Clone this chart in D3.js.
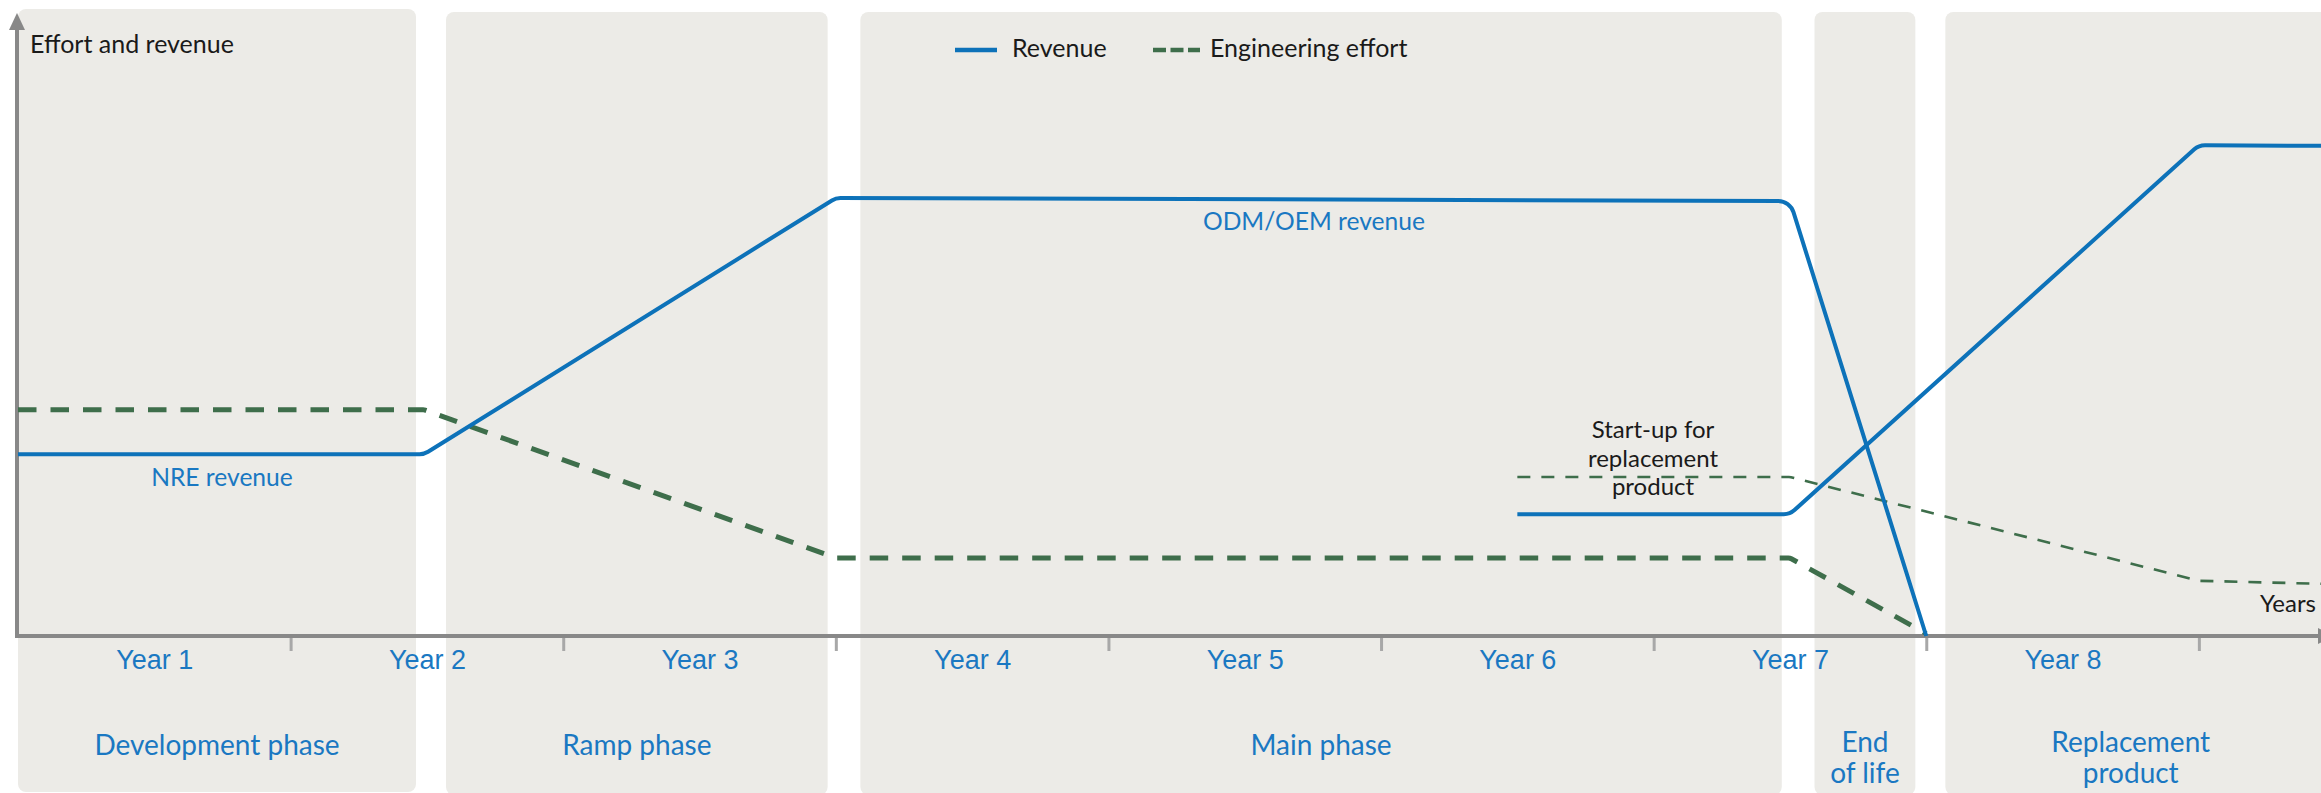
<!DOCTYPE html>
<html>
<head>
<meta charset="utf-8">
<script src="https://cdn.jsdelivr.net/npm/d3@7"></script>
<style>
  body { margin: 0; background: #fff; }
  svg { display: block; font-family: "Lato", "Open Sans", sans-serif; }
  .box { fill: #ecebe7; }
  .blue-label { fill: #1a78c2; font-size: 24.6px; }
  .year-label { fill: #1a78c2; font-size: 27px; }
  .phase-label { fill: #1a78c2; font-size: 28px; }
  .dark-label { fill: #1a1a1a; font-size: 25px; }
  .note-label { fill: #1a1a1a; font-size: 24px; }
</style>
</head>
<body>
<div id="chart"></div>
<script>
// years on the x axis, values on an arbitrary 0-100 scale
const yearTicks = [1, 2, 3, 4, 5, 6, 7, 8];
const yearLabels = ["Year 1", "Year 2", "Year 3", "Year 4", "Year 5", "Year 6", "Year 7", "Year 8"];

const phaseNames = [["Development phase"], ["Ramp phase"], ["Main phase"], ["End", "of life"], ["Replacement", "product"]];
const phaseStart = [0, 1.57, 3.09, 6.59, 7.07];
const phaseEnd = [1.46, 2.97, 6.47, 6.96, 8.43];

const revenueYears = [0, 1.49, 3.0, 6.5, 7.0];
const revenueValues = [30.3, 30.3, 73.0, 72.5, 0];

const effortYears = [0, 1.49, 3.0, 6.5, 7.0];
const effortValues = [37.7, 37.7, 13.0, 13.0, 0.4];

const newRevenueYears = [5.5, 6.5, 8.0, 8.45];
const newRevenueValues = [20.3, 20.3, 81.8, 81.7];

const newEffortYears = [5.5, 6.5, 8.0, 8.45];
const newEffortValues = [26.5, 26.5, 9.2, 8.7];

const width = 2321;
const height = 793;
const axisY = 636;
const blue = "#0d72b9";
const green = "#3e6e4b";

const svg = d3.select("#chart")
  .append("svg")
  .attr("width", width)
  .attr("height", height);

const x = d3.scaleLinear()
  .domain([0, 8.448])
  .range([18, 2321]);

const y = d3.scaleLinear()
  .domain([0, 100])
  .range([axisY, 36]);

// straight segments joined by small rounded corners
function curveRounded(radius) {
  return function (context) {
    let pts = [];
    return {
      areaStart() {},
      areaEnd() {},
      lineStart() { pts = []; },
      point(px, py) { pts.push([+px, +py]); },
      lineEnd() {
        context.moveTo(pts[0][0], pts[0][1]);
        for (let i = 1; i < pts.length - 1; i++) {
          context.arcTo(pts[i][0], pts[i][1], pts[i + 1][0], pts[i + 1][1], radius);
        }
        const last = pts[pts.length - 1];
        context.lineTo(last[0], last[1]);
      }
    };
  };
}

// phase backgrounds
phaseNames.forEach((name, i) => {
  const last = i === phaseNames.length - 1;
  const x0 = x(phaseStart[i]);
  const x1 = last ? width + 20 : x(phaseEnd[i]);
  svg.append("rect")
    .attr("class", "box")
    .attr("x", x0)
    .attr("y", i === 0 ? 9 : 12)
    .attr("width", x1 - x0)
    .attr("height", 783)
    .attr("rx", 8);

  const cx = (x(phaseStart[i]) + x(phaseEnd[i])) / 2;
  const t = svg.append("text")
    .attr("class", "phase-label")
    .attr("text-anchor", "middle")
    .attr("x", cx)
    .attr("y", name.length > 1 ? 752 : 755);
  name.forEach((line, j) => {
    t.append("tspan").attr("x", cx).attr("dy", j === 0 ? 0 : 31).text(line);
  });
});

// x axis with ticks at year boundaries
svg.append("g")
  .attr("transform", `translate(0,${axisY})`)
  .call(d3.axisBottom(x).tickValues(yearTicks).tickSize(15).tickFormat(""))
  .call(g => g.select(".domain").remove())
  .call(g => g.selectAll(".tick line").attr("stroke", "#a8a8a8").attr("stroke-width", 3));

svg.append("g")
  .attr("transform", `translate(0,${axisY})`)
  .call(d3.axisBottom(x).tickValues(yearTicks.map(d => d - 0.5)).tickSize(0).tickPadding(0)
    .tickFormat((d, i) => yearLabels[i]))
  .call(g => g.select(".domain").remove())
  .call(g => g.selectAll(".tick text")
    .attr("class", "year-label")
    .attr("dy", null)
    .attr("y", 33)
    .style("font-family", "inherit"));

svg.append("line")
  .attr("x1", x(0) - 2).attr("x2", 2318)
  .attr("y1", axisY).attr("y2", axisY)
  .attr("stroke", "#888").attr("stroke-width", 4);
svg.append("path")
  .attr("d", `M2318,${axisY - 8}L2334,${axisY}L2318,${axisY + 8}Z`)
  .attr("fill", "#888");

// y axis with arrow
svg.append("line")
  .attr("x1", x(0) - 1).attr("x2", x(0) - 1)
  .attr("y1", axisY + 2).attr("y2", 26)
  .attr("stroke", "#888").attr("stroke-width", 4);
svg.append("path")
  .attr("d", `M${x(0) - 9},30L${x(0) - 1},13L${x(0) + 7},30Z`)
  .attr("fill", "#888");

svg.append("text")
  .attr("class", "dark-label")
  .attr("x", 30).attr("y", 53)
  .text("Effort and revenue");

svg.append("text")
  .attr("class", "note-label")
  .attr("text-anchor", "end")
  .attr("x", 2316).attr("y", 612)
  .text("Years");

// lines
function drawLine(xs, vs, color, w, dash, radius) {
  const pts = xs.map((d, i) => [d, vs[i]]);
  const line = d3.line()
    .x(d => x(d[0]))
    .y(d => y(d[1]))
    .curve(curveRounded(radius));
  svg.append("path")
    .datum(pts)
    .attr("d", line)
    .attr("fill", "none")
    .attr("stroke", color)
    .attr("stroke-width", w)
    .attr("stroke-linejoin", "round")
    .attr("stroke-dasharray", dash);
}

drawLine(effortYears, effortValues, green, 5, "18.5,14", 6);
drawLine(newEffortYears, newEffortValues, green, 2.6, "13,11", 8);
drawLine(revenueYears, revenueValues, blue, 4, null, 16);
drawLine(newRevenueYears, newRevenueValues, blue, 4, null, 16);

// in-chart annotations
svg.append("text")
  .attr("class", "blue-label")
  .attr("text-anchor", "middle")
  .attr("x", 222).attr("y", 486)
  .text("NRE revenue");

svg.append("text")
  .attr("class", "blue-label")
  .attr("text-anchor", "middle")
  .attr("x", 1314).attr("y", 230)
  .text("ODM/OEM revenue");

const startup = svg.append("text")
  .attr("class", "note-label")
  .attr("text-anchor", "middle")
  .attr("x", 1653).attr("y", 438);
["Start-up for", "replacement", "product"].forEach((line, j) => {
  startup.append("tspan").attr("x", 1653).attr("dy", j === 0 ? 0 : 28.5).text(line);
});

// legend
svg.append("line")
  .attr("x1", 955).attr("x2", 997).attr("y1", 50).attr("y2", 50)
  .attr("stroke", blue).attr("stroke-width", 4.5);
svg.append("text")
  .attr("class", "dark-label")
  .attr("x", 1012).attr("y", 57)
  .text("Revenue");

svg.append("line")
  .attr("x1", 1153).attr("x2", 1200).attr("y1", 50).attr("y2", 50)
  .attr("stroke", green).attr("stroke-width", 4.5)
  .attr("stroke-dasharray", "13,4.5");
svg.append("text")
  .attr("class", "dark-label")
  .attr("x", 1210).attr("y", 57)
  .text("Engineering effort");
</script>
</body>
</html>
